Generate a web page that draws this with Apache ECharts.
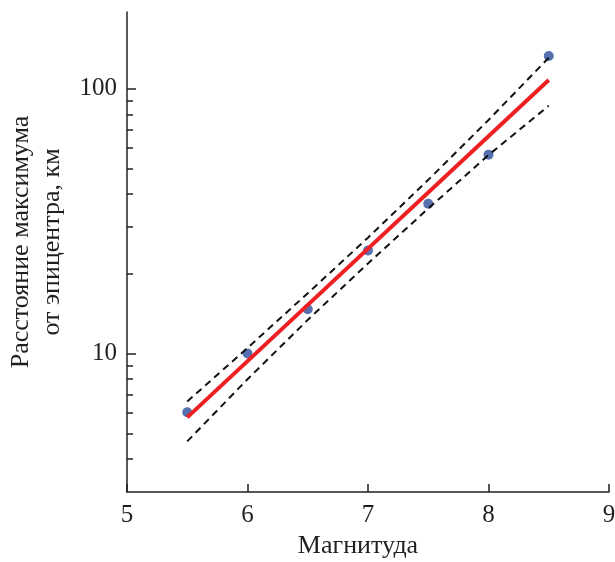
<!DOCTYPE html>
<html>
<head>
<meta charset="utf-8">
<script src="https://cdn.jsdelivr.net/npm/echarts@6/dist/echarts.min.js"></script>
<style>
  html, body { margin: 0; padding: 0; background: #fff; }
  #main { width: 615px; height: 562px; }
</style>
</head>
<body>
<div id="main"></div>
<script>
// магнитуды наблюдений
var magnitudes = [5.5, 6.0, 6.5, 7.0, 7.5, 8.0, 8.5];
// расстояние максимума, км
var distances = [6.0, 10.0, 14.7, 24.5, 36.8, 56.4, 133];

// линия регрессии (концы)
var fitX = [5.5, 8.5];
var fitY = [5.74, 108];

// доверительный интервал
var bandX = [5.5, 6.0, 6.5, 7.0, 7.5, 8.0, 8.5];
var upperY = [6.59, 10.5, 16.9, 27.4, 45.3, 76.2, 131];
var lowerY = [4.66, 8.0, 13.4, 21.9, 35.3, 56.2, 86.3];

var majorTicks = [10, 100];
var minorTicks = [4, 5, 6, 7, 8, 9, 20, 30, 40, 50, 60, 70, 80, 90];

function zip(xs, ys) {
  var out = [];
  for (var i = 0; i < xs.length; i++) out.push([xs[i], ys[i]]);
  return out;
}

var textColor = '#231f20';
var font = 'Liberation Serif';

var myChart = echarts.init(document.getElementById('main'));

var option = {
  animation: false,
  backgroundColor: '#fff',
  grid: { left: 127, right: 6, top: 12, bottom: 70, containLabel: false, outerBoundsMode: 'none' },
  xAxis: {
    type: 'value',
    min: 5,
    max: 9,
    interval: 1,
    name: 'Магнитуда',
    nameLocation: 'middle',
    nameGap: 41,
    nameTextStyle: { fontFamily: font, fontSize: 26, color: textColor, padding: [0, 20, 0, 0] },
    axisLine: { show: true, lineStyle: { color: textColor, width: 1.5 } },
    axisTick: { show: true, inside: true, length: 8, lineStyle: { color: textColor, width: 1.5 } },
    axisLabel: { fontFamily: font, fontSize: 25, color: textColor, margin: 11 },
    splitLine: { show: false }
  },
  yAxis: [
    {
      type: 'log',
      min: 3,
      max: 195,
      name: 'Расстояние максимума\nот эпицентра, км',
      nameLocation: 'middle',
      nameGap: 59,
      nameRotate: 90,
      nameTextStyle: { fontFamily: font, fontSize: 26, lineHeight: 31, color: textColor, padding: [0, 0, 0, 20] },
      axisLine: { show: true, lineStyle: { color: textColor, width: 1.5 } },
      axisTick: { show: true, inside: true, length: 9, customValues: majorTicks, lineStyle: { color: textColor, width: 1.5 } },
      axisLabel: { fontFamily: font, fontSize: 25, color: textColor, margin: 10, customValues: majorTicks },
      splitLine: { show: false }
    },
    {
      type: 'log',
      min: 3,
      max: 195,
      position: 'left',
      axisLine: { show: false },
      axisTick: { show: true, inside: true, length: 6, customValues: minorTicks, lineStyle: { color: textColor, width: 1.5 } },
      axisLabel: { show: false },
      splitLine: { show: false }
    }
  ],
  series: [
    {
      type: 'scatter',
      data: zip(magnitudes, distances),
      symbolSize: 10,
      itemStyle: { color: '#2c4c9c' },
      z: 2
    },
    {
      type: 'line',
      data: zip(bandX, upperY),
      showSymbol: false,
      lineStyle: { color: '#111', width: 2, type: [7, 5] },
      z: 3
    },
    {
      type: 'line',
      data: zip(bandX, lowerY),
      showSymbol: false,
      lineStyle: { color: '#111', width: 2, type: [7, 5] },
      z: 3
    },
    {
      type: 'line',
      data: zip(fitX, fitY),
      showSymbol: false,
      lineStyle: { color: '#ee2024', width: 4 },
      z: 4
    }
  ]
};

myChart.setOption(option);
</script>
</body>
</html>
